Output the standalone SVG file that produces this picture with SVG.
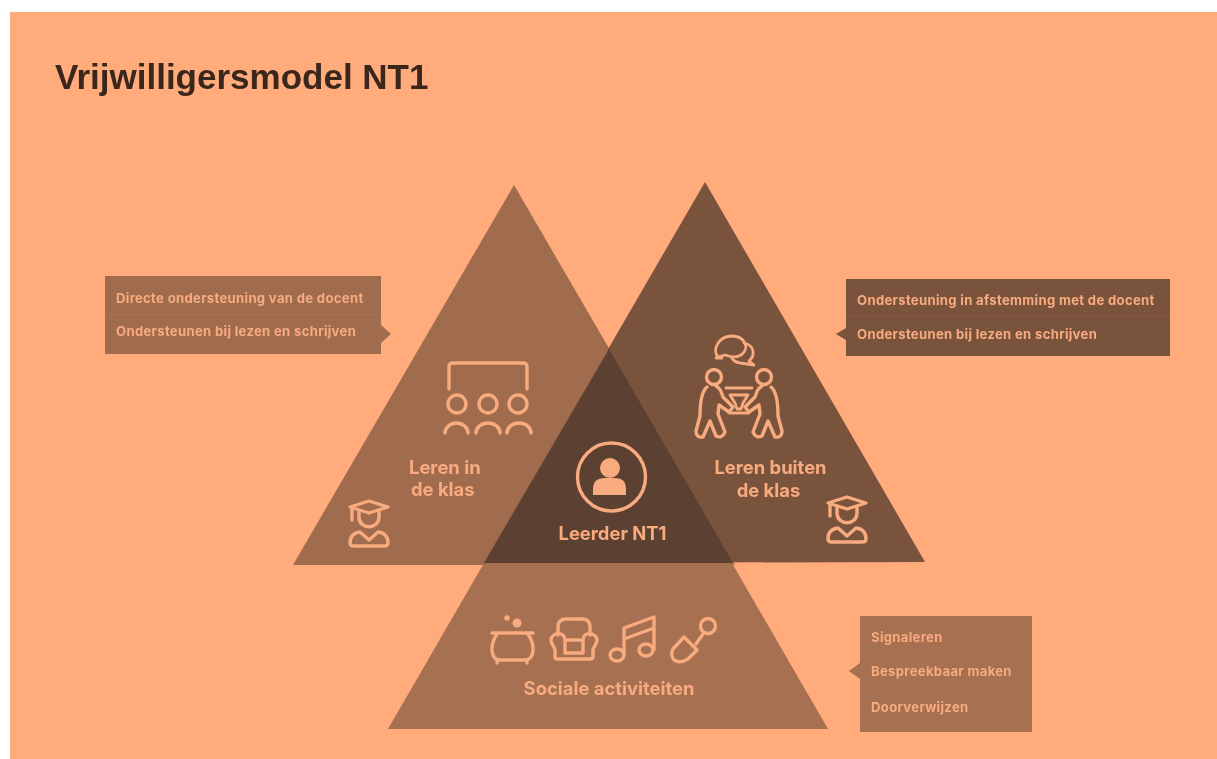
<svg xmlns="http://www.w3.org/2000/svg" width="1217" height="759" viewBox="0 0 1217 759">
<style>
.lab{font-family:Inter,Roboto,"Liberation Sans",sans-serif;font-weight:700;fill:#f8ab7e}
.big{font-size:18.4px}
.sm{font-size:13.1px;letter-spacing:.32px}
.ic{fill:none;stroke:#f8ab7e;stroke-width:3.4;stroke-linecap:round;stroke-linejoin:round}
.fl{fill:#f8ab7e;stroke:none}
.div{stroke-width:1;opacity:.1;stroke:#ffab7c}
</style>
<defs>
<filter id="soft" x="0" y="0" width="100%" height="100%"><feGaussianBlur stdDeviation="0.75"/></filter>
<g id="student" class="ic">
<path d="M2,7 L21,1 L40,7 L21,13 Z"/>
<path d="M4,8 V20" />
<path d="M11,11 V17 C11,30 31,30 31,17 V11"/>
<path d="M12,32 C4,33 2,38 2,43 Q2,46 6,46 H36 Q40,46 40,43 C40,38 38,33 30,32 L21,40 Z"/>
</g>
<g id="carrier" class="ic">
<circle cx="714" cy="377" r="7.500"/>
<path d="M707,387 C701,392 700,404 700,416 L696,431 Q696,438 703,437 L710,421 L716,436 Q722,439 725,432 L718,414 L719,405 L729,412 L733,407 L723,397 C721,391 720,388 716,386"/>
</g>
</defs>
<g filter="url(#soft)">
<rect x="10" y="12" width="1207" height="747" fill="#ffab7c"/>
<text id="title" x="55" y="89" font-family="'Liberation Sans',Arial,sans-serif" font-weight="700" font-size="35" fill="#3a271d">Vrijwilligersmodel NT1</text>

<g id="node-left">
<polygon points="514,185 293,565 735,565" fill="#a06c4e"/>
<g class="ic">
<path d="M449,389 V367 Q449,363 453,363 H523 Q527,363 527,367 V389"/>
<circle cx="457" cy="404" r="9"/><circle cx="488" cy="404" r="9"/><circle cx="518" cy="404" r="9"/>
<path d="M445,433 a11.500,10 0 0 1 23,0 M476,433 a12,10 0 0 1 24,0 M507,433 a12,10 0 0 1 24,0"/>
</g>
<use href="#student" x="348" y="500"/>
<text class="lab big" x="409" y="474">Leren in</text>
<text class="lab big" x="411" y="496">de klas</text>
</g>

<g id="node-right">
<polygon points="705,182 484,563 925,562" fill="#7a533c"/>
<g class="ic">
<path d="M722,358 C711,358 714,337 731,336 C746,336 750,349 741,355 C735,359 728,356 725,355 L716,358 Z" stroke-width="2.800"/>
<path d="M744,343 C754,345 756,355 749,361 L754,365 L740,363 C735,362 733,360 732,358" stroke-width="2.800"/>
<path d="M726,388 H752 M730,395 H748 L743,403 L741,409 H737 L735,403 Z M729,413 H749" stroke-width="2.800"/>
</g>
<use href="#carrier"/>
<use href="#carrier" transform="translate(1478,0) scale(-1,1)"/>
<use href="#student" x="826" y="496"/>
<text class="lab big" x="770.500" y="474" text-anchor="middle">Leren buiten</text>
<text class="lab big" x="768.500" y="497" text-anchor="middle">de klas</text>
</g>

<g id="node-bottom">
<polygon points="608,349 388,729 828,729" fill="#a66f51"/>
<g class="ic">
<path d="M492,633 H533 M497,634 C489,646 491,660 500,660 H525 C534,660 536,646 528,634 M497,661 V663 M527,661 V663"/>
<circle cx="507" cy="618" r="2.800" class="fl"/><circle cx="517" cy="623" r="4.500" class="fl"/>
<path d="M558,635 V627 Q558,619 566,619 H582 Q590,619 590,627 V635"/>
<path d="M565,640 H583 V653 H565 Z"/>
<path d="M565,640 C565,631 552,632 551,640 C551,645 555,647 555,650 V657 Q555,659 558,659 H590 Q593,659 593,657 V650 C593,647 597,645 597,640 C596,632 583,631 583,640"/>
<ellipse cx="617" cy="655" rx="7" ry="6"/>
<ellipse cx="646" cy="650" rx="7" ry="6"/>
<path d="M624,655 V628 L654,617 V650 M624,639 L654,628"/>
<path d="M696,644 L703,634"/>
<circle cx="708" cy="626" r="7.500"/>
<path d="M684,637 L697,650 L688,659 Q680,664 674,660 Q670,655 673,649 Z"/>
</g>
<text class="lab big" x="609" y="695" text-anchor="middle">Sociale activiteiten</text>
</g>

<g id="node-center">
<polygon points="609,349 484,563 733,563" fill="#5c3f30"/>
<g>
<circle cx="611.500" cy="477" r="34" class="ic"/>
<circle cx="610" cy="468" r="10" class="fl"/>
<path class="fl" d="M593,495 V489 Q593,478 605,478 H615 Q626,478 626,489 V495 Z"/>
</g>
<text class="lab big" x="612.500" y="540" text-anchor="middle">Leerder NT1</text>
</g>

<g id="panel-left">
<polygon points="105,276 381,276 381,325 391,334 381,343 381,354 105,354" fill="#a06c4e"/>
<line class="div" x1="105" x2="381" y1="315" y2="315"/>
<text class="lab sm" x="116" y="303">Directe ondersteuning van de docent</text>
<text class="lab sm" x="116" y="336">Ondersteunen bij lezen en schrijven</text>
</g>

<g id="panel-right">
<polygon points="846,279 1170,279 1170,356 846,356 846,340 836,334 846,328" fill="#7a533c"/>
<line class="div" x1="846" x2="1170" y1="316" y2="316"/>
<text class="lab sm" x="857" y="305">Ondersteuning in afstemming met de docent</text>
<text class="lab sm" x="857" y="339">Ondersteunen bij lezen en schrijven</text>
</g>

<g id="panel-bottom">
<polygon points="860,616 1032,616 1032,732 860,732 860,679 849,671 860,663" fill="#a66f51"/>
<line class="div" x1="860" x2="1032" y1="653" y2="653"/>
<line class="div" x1="860" x2="1032" y1="691" y2="691"/>
<text class="lab sm" x="871" y="642">Signaleren</text>
<text class="lab sm" x="871" y="676">Bespreekbaar maken</text>
<text class="lab sm" x="871" y="712">Doorverwijzen</text>
</g>
<g id="connectors"/>
</g>
</svg>
